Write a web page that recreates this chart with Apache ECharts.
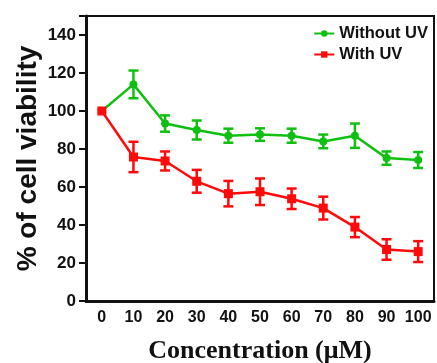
<!DOCTYPE html>
<html>
<head>
<meta charset="utf-8">
<script src="https://cdn.jsdelivr.net/npm/echarts@6/dist/echarts.min.js"></script>
<style>
  html, body { margin: 0; padding: 0; background: #fff; }
  #chart { width: 437px; height: 363px; }
</style>
</head>
<body>
<div id="chart"></div>
<script>
const concentrations = ["0", "10", "20", "30", "40", "50", "60", "70", "80", "90", "100"];
const withoutUV = [100, 114, 93.4, 90, 87, 87.6, 87, 84, 87, 75.2, 74.2];
const withoutUVErr = [0, 7.3, 4.3, 5, 3.7, 3.3, 3.7, 3.6, 6.4, 3.5, 4.2];
const withUV = [100, 75.8, 73.7, 63, 56.5, 57.5, 53.8, 48.9, 38.9, 27.1, 26];
const withUVErr = [0, 8, 5, 6, 6.7, 7, 5.4, 6, 5.3, 5.4, 5.5];
const yTicks = [0, 20, 40, 60, 80, 100, 120, 140];

const green = "#10c010";
const red = "#ff0a0a";

function errData(vals, errs) {
    return vals.map((v, i) => [i, v - errs[i], v + errs[i]]);
}

function errorBars(color) {
    return function (params, api) {
        const x = api.value(0);
        const lo = api.coord([x, api.value(1)]);
        const hi = api.coord([x, api.value(2)]);
        if (hi[1] === lo[1]) return null;
        const half = 5;
        const style = { stroke: color, lineWidth: 2.5 };
        return {
            type: "group",
            children: [
                { type: "line", shape: { x1: lo[0], y1: lo[1], x2: hi[0], y2: hi[1] }, style },
                { type: "line", shape: { x1: hi[0] - half, y1: hi[1], x2: hi[0] + half, y2: hi[1] }, style },
                { type: "line", shape: { x1: lo[0] - half, y1: lo[1], x2: lo[0] + half, y2: lo[1] }, style },
            ],
        };
    };
}

const chart = echarts.init(document.getElementById("chart"));

const option = {
    backgroundColor: "#fff",
    animation: false,
    grid: {
        left: 86,
        top: 16,
        right: 3,
        bottom: 62,
        outerBoundsMode: "none",
        show: true,
        borderColor: "#111",
        borderWidth: 2,
    },
    legend: {
        orient: "vertical",
        right: 4,
        top: 20,
        itemWidth: 20,
        itemHeight: 8,
        itemGap: 4,
        textStyle: {
            fontFamily: "Liberation Sans, Arial",
            fontWeight: "bold",
            fontSize: 16.5,
            color: "#111",
        },
        data: ["Without UV", "With UV"],
    },
    xAxis: {
        type: "category",
        data: concentrations,
        name: "Concentration (\u03bcM)",
        nameLocation: "middle",
        nameGap: 37,
        nameMoveOverlap: false,
        nameTextStyle: {
            fontFamily: "Liberation Serif, Times New Roman",
            fontWeight: "bold",
            fontSize: 26,
            color: "#111",
        },
        axisLine: { lineStyle: { color: "#111", width: 3 } },
        axisTick: { alignWithLabel: true, length: 6, lineStyle: { color: "#111", width: 2 } },
        axisLabel: {
            interval: 0,
            fontFamily: "Liberation Sans, Arial",
            fontWeight: "bold",
            fontSize: 16,
            color: "#111",
            margin: 9,
        },
    },
    yAxis: {
        type: "value",
        min: 0,
        max: 150,
        interval: 20,
        name: "% of cell viability",
        nameLocation: "middle",
        nameGap: 44,
        nameMoveOverlap: false,
        nameTextStyle: {
            fontFamily: "Liberation Sans, Arial",
            fontWeight: "bold",
            fontSize: 28,
            color: "#111",
        },
        axisLine: { show: true, lineStyle: { color: "#111", width: 3 } },
        axisTick: { show: true, length: 7, lineStyle: { color: "#111", width: 2 } },
        splitLine: { show: false },
        axisLabel: {
            fontFamily: "Liberation Sans, Arial",
            fontWeight: "bold",
            fontSize: 17,
            color: "#111",
            margin: 10,
            formatter: (v) => (yTicks.includes(v) ? String(v) : ""),
        },
    },
    series: [
        {
            name: "Without UV",
            type: "line",
            data: withoutUV,
            symbol: "circle",
            symbolSize: 8,
            lineStyle: { color: green, width: 2.5 },
            itemStyle: { color: green },
            z: 3,
        },
        {
            type: "custom",
            data: errData(withoutUV, withoutUVErr),
            renderItem: errorBars(green),
            encode: { x: 0, y: [1, 2] },
            z: 3,
        },
        {
            name: "With UV",
            type: "line",
            data: withUV,
            symbol: "rect",
            symbolSize: 9,
            lineStyle: { color: red, width: 2.5 },
            itemStyle: { color: red },
            z: 4,
        },
        {
            type: "custom",
            data: errData(withUV, withUVErr),
            renderItem: errorBars(red),
            encode: { x: 0, y: [1, 2] },
            z: 4,
        },
    ],
};

chart.setOption(option);
</script>
</body>
</html>
